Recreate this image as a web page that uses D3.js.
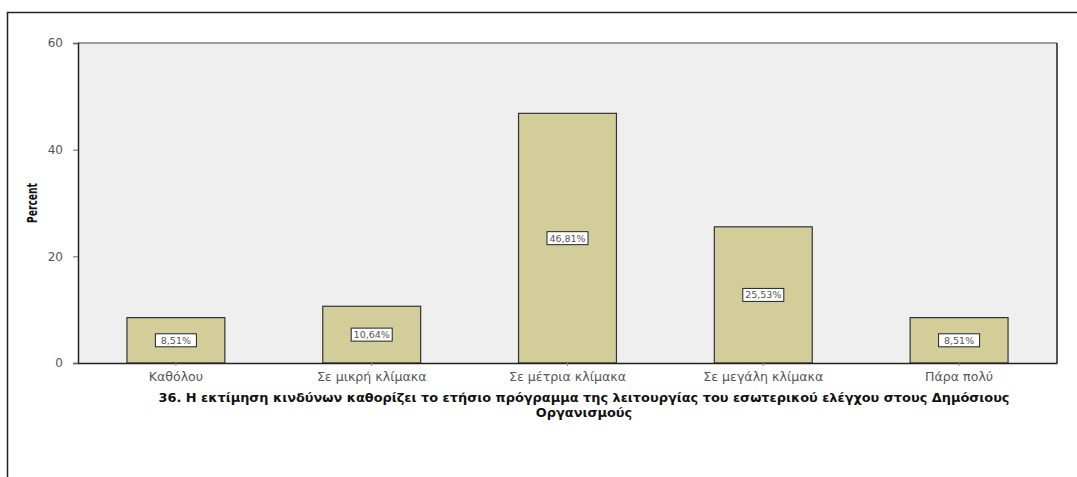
<!DOCTYPE html>
<html>
<head>
<meta charset="utf-8">
<script src="https://cdn.jsdelivr.net/npm/d3@7"></script>
<style>
  html, body { margin: 0; padding: 0; background: #fff; }
  svg { display: block; }
</style>
</head>
<body>
<svg id="chart" width="1077" height="477"></svg>
<script>
// Response categories
const categories = ["Καθόλου", "Σε μικρή κλίμακα", "Σε μέτρια κλίμακα", "Σε μεγάλη κλίμακα", "Πάρα πολύ"];
// Percent of respondents per category
const percents = [8.51, 10.64, 46.81, 25.53, 8.51];
// Y-axis ticks
const yTicks = [0, 20, 40, 60];
const yLabel = "Percent";
const titleLines = [
  "36. Η εκτίμηση κινδύνων καθορίζει το ετήσιο πρόγραμμα της λειτουργίας του εσωτερικού ελέγχου στους Δημόσιους",
  "Οργανισμούς"
];

const svg = d3.select("#chart");
const W = 1077, H = 477;

// outer frame (extends past the right and bottom edges)
svg.append("rect")
  .attr("x", 7.5).attr("y", 12.5)
  .attr("width", W + 10).attr("height", H + 10)
  .attr("fill", "#fff").attr("stroke", "#222").attr("stroke-width", 1.5);

const plot = { left: 78, top: 43, right: 1057, bottom: 363 };

const x = d3.scaleBand()
  .domain(categories)
  .range([plot.left, plot.right])
  .paddingInner(0.5)
  .paddingOuter(0.25);

const y = d3.scaleLinear()
  .domain([0, 60])
  .range([plot.bottom, plot.top]);

// plot background
svg.append("rect")
  .attr("x", plot.left).attr("y", plot.top)
  .attr("width", plot.right - plot.left).attr("height", plot.bottom - plot.top)
  .attr("fill", "#efefef");

// bars
svg.append("g").selectAll("rect")
  .data(categories)
  .join("rect")
  .attr("x", d => x(d))
  .attr("y", (d, i) => y(percents[i]))
  .attr("width", x.bandwidth())
  .attr("height", (d, i) => y(0) - y(percents[i]))
  .attr("fill", "#d3ce99")
  .attr("stroke", "#333")
  .attr("stroke-width", 1.2);

// value labels in boxes at bar mid-height
const fmt = v => v.toFixed(2).replace(".", ",") + "%";
const lbl = svg.append("g").selectAll("g")
  .data(categories)
  .join("g")
  .attr("transform", (d, i) => `translate(${x(d) + x.bandwidth() / 2},${(y(percents[i]) + y(0)) / 2})`);
lbl.append("rect")
  .attr("x", -20.5).attr("y", -6.5)
  .attr("width", 41).attr("height", 13)
  .attr("fill", "#fff").attr("stroke", "#222").attr("stroke-width", 1);
lbl.append("text")
  .attr("text-anchor", "middle")
  .attr("dy", "0.36em")
  .attr("font-family", "DejaVu Sans, Verdana, sans-serif")
  .attr("font-size", 9.5)
  .attr("fill", "#555")
  .text((d, i) => fmt(percents[i]));

// plot frame: top thin, right dark
svg.append("line")
  .attr("x1", plot.left).attr("x2", plot.right)
  .attr("y1", plot.top).attr("y2", plot.top)
  .attr("stroke", "#444").attr("stroke-width", 1);
svg.append("line")
  .attr("x1", plot.right).attr("x2", plot.right)
  .attr("y1", plot.top).attr("y2", plot.bottom)
  .attr("stroke", "#222").attr("stroke-width", 1.5);

// y axis
const yAxis = svg.append("g")
  .attr("transform", `translate(${plot.left},0)`)
  .call(d3.axisLeft(y).tickValues(yTicks).tickSize(5).tickPadding(10));
yAxis.select(".domain").attr("stroke", "#222").attr("stroke-width", 1.5);
yAxis.selectAll(".tick line").attr("stroke", "#666");
yAxis.selectAll(".tick text")
  .attr("font-family", "DejaVu Sans, Verdana, sans-serif")
  .attr("font-size", 12)
  .attr("fill", "#555");

// x axis
const xAxis = svg.append("g")
  .attr("transform", `translate(0,${plot.bottom})`)
  .call(d3.axisBottom(x).tickSize(3).tickPadding(6).tickSizeOuter(0));
xAxis.select(".domain").attr("stroke", "#222").attr("stroke-width", 1.5);
xAxis.selectAll(".tick line").attr("stroke", "#888");
xAxis.selectAll(".tick text")
  .attr("font-family", "DejaVu Sans, Verdana, sans-serif")
  .attr("font-size", 12.6)
  .attr("fill", "#555");

// y axis title, condensed bold
svg.append("text")
  .attr("transform", "translate(37,203) rotate(-90)")
  .attr("text-anchor", "middle")
  .attr("font-family", "Liberation Sans Narrow, DejaVu Sans Condensed, sans-serif")
  .attr("font-weight", "bold")
  .attr("font-size", 14)
  .attr("textLength", 40)
  .attr("lengthAdjust", "spacingAndGlyphs")
  .attr("fill", "#111")
  .text(yLabel);

// x axis title (two lines); the first line is stretched to span 851px
const titleSize = 12;
const title = svg.append("g").attr("font-family", "DejaVu Sans, Verdana, sans-serif")
  .attr("font-weight", "bold").attr("fill", "#111");
const t0 = title.append("text").attr("font-size", titleSize).text(titleLines[0]);
const stretch = 851 / t0.node().getComputedTextLength();
t0.remove();
title.selectAll("text")
  .data(titleLines)
  .join("text")
  .attr("x", 584)
  .attr("y", (d, i) => 402 + i * 15)
  .attr("text-anchor", "middle")
  .attr("font-size", titleSize)
  .each(function (d) {
    const el = d3.select(this).text(d);
    const w = this.getComputedTextLength();
    el.attr("textLength", w * stretch).attr("lengthAdjust", "spacingAndGlyphs");
  });
</script>
</body>
</html>
